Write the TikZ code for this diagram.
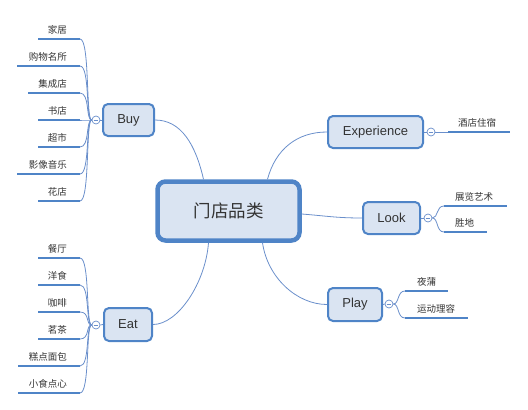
\documentclass[tikz,border=0pt]{standalone}
\usepackage{fontspec}
\setmainfont{Liberation Sans}
\newfontfamily\cjk{Noto Sans CJK SC}
\usetikzlibrary{calc, positioning}

\definecolor{mmblue}{HTML}{4F84C7}
\definecolor{mmfill}{HTML}{DAE4F2}
\definecolor{mmline}{HTML}{6A8FCB}
\definecolor{mmtext}{HTML}{333333}

\tikzset{
  topic/.style={draw=mmblue, fill=mmfill, line width=2pt, rounded corners=5pt,
    text=mmtext, font=\fontsize{13}{15}\selectfont, inner sep=0pt},
  coretopic/.style={topic, line width=4.5pt, rounded corners=8pt,
    font=\cjk\fontsize{17.5}{20}\selectfont},
  branchline/.style={draw=mmline, line width=0.8pt},
  twig/.style={draw=mmline, line width=0.8pt},
  leafline/.style={draw=mmblue, line width=2.4pt},
  leaftext/.style={text=mmtext, font=\cjk\fontsize{9.5}{11}\selectfont, inner sep=0pt},
  collapse/.style={circle, draw=mmline, fill=white, line width=0.7pt, inner sep=0pt,
    minimum size=8pt,
    path picture={\draw[mmline, line width=0.6pt]
      ([xshift=-2.3pt]path picture bounding box.center) --
      ([xshift=2.3pt]path picture bounding box.center);}}
}

\begin{document}
\begin{tikzpicture}[x=1pt, y=-1pt]
\useasboundingbox (0,0) rectangle (528,410);

% Central topic and main topics
\node[coretopic, minimum width=142pt, minimum height=59pt] (core) at (228.5,211) {门店品类};
\node[topic, minimum width=51pt, minimum height=32pt] (buy) at (128.5,120) {Buy};
\node[topic, minimum width=48pt, minimum height=33pt] (eat) at (128,324.5) {Eat};
\node[topic, minimum width=95pt, minimum height=32pt] (exp) at (375.5,132) {Experience};
\node[topic, minimum width=57pt, minimum height=32pt] (look) at (391.5,218) {Look};
\node[topic, minimum width=54pt, minimum height=33pt] (play) at (355,304.5) {Play};

% Main branches
\draw[branchline] (buy.east) .. controls +(26,0) and +(-8,-35) .. ([xshift=-25pt]core.north);
\draw[branchline] (exp.west) .. controls +(-30,0) and +(8,-30) .. ([xshift=39pt]core.north);
\draw[branchline] ([yshift=-3pt]core.east) .. controls +(25,2) and +(-25,0) .. (look.west);
\draw[branchline] ([xshift=-20pt]core.south) .. controls +(-3,40) and +(25,0) .. (eat.east);
\draw[branchline] ([xshift=34pt]core.south) .. controls +(5,35) and +(-30,0) .. (play.west);

% Collapse markers
\node[collapse] (buyc) at (96,120) {};
\node[collapse] (eatc) at (96,325) {};
\node[collapse] (expc) at (431,132) {};
\node[collapse] (lookc) at (428,218) {};
\node[collapse] (playc) at (389,304) {};
\draw[twig] (buy.west) -- (buyc.east);
\draw[twig] (eat.west) -- (eatc.east);
\draw[twig] (exp.east) -- (expc.west);
\draw[twig] (look.east) -- (lookc.west);
\draw[twig] (play.east) -- (playc.west);

% Buy subtopics
\foreach \y/\xs/\txt [count=\i] in {39/38/家居, 66/17/购物名所, 93/28/集成店, 120/38/书店,
    147/38/超市, 174/17/影像音乐, 201/38/花店} {
  \coordinate (bl\i) at (80,\y);
  \draw[leafline] (\xs,\y) -- (bl\i);
  \node[leaftext, anchor=base east] (bt\i) at (67,\y-6) {\txt};
  \draw[twig] (buyc.west) .. controls +(-6,0) and +(10,0) .. (bl\i);
}

% Eat subtopics
\foreach \y/\xs/\txt [count=\i] in {258/38/餐厅, 285/38/洋食, 312/38/咖啡, 339/38/茗茶,
    366/18/糕点面包, 393/18/小食点心} {
  \coordinate (el\i) at (80,\y);
  \draw[leafline] (\xs,\y) -- (el\i);
  \node[leaftext, anchor=base east] (et\i) at (67,\y-6) {\txt};
  \draw[twig] (eatc.west) .. controls +(-6,0) and +(10,0) .. (el\i);
}

% Experience subtopic
\coordinate (xl1) at (448,132);
\draw[leafline] (xl1) -- (510,132);
\node[leaftext, anchor=base west] (xt1) at (458,126) {酒店住宿};
\draw[twig] (expc.east) -- (xl1);

% Look subtopics
\foreach \y/\xe/\txt [count=\i] in {206/507/展览艺术, 232/487/胜地} {
  \coordinate (ll\i) at (444,\y);
  \draw[leafline] (ll\i) -- (\xe,\y);
  \node[leaftext, anchor=base west] (lt\i) at (455,\y-6) {\txt};
  \draw[twig] (lookc.east) .. controls +(6,0) and +(-8,0) .. (ll\i);
}

% Play subtopics
\foreach \y/\xe/\txt [count=\i] in {291/448/夜蒲, 318/468/运动理容} {
  \coordinate (pl\i) at (405,\y);
  \draw[leafline] (pl\i) -- (\xe,\y);
  \node[leaftext, anchor=base west] (pt\i) at (417,\y-6) {\txt};
  \draw[twig] (playc.east) .. controls +(6,0) and +(-8,0) .. (pl\i);
}
\end{tikzpicture}
\end{document}
